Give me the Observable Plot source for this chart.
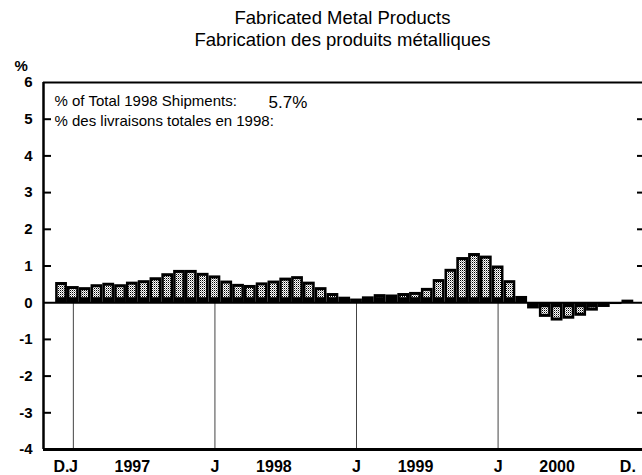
<!DOCTYPE html>
<html><head><meta charset="utf-8">
<script src="https://cdn.jsdelivr.net/npm/d3@7"></script>
<script src="https://cdn.jsdelivr.net/npm/@observablehq/plot@0.6"></script>
<style>
body{margin:0;background:#fff;font-family:"Liberation Sans",Arial,Helvetica,sans-serif;color:#000;}
#title{width:642px;height:52px;text-align:center;font-size:18.5px;line-height:22px;padding-top:7px;padding-left:43px;box-sizing:border-box;}
#chart svg{display:block;}
</style></head><body>
<svg width="0" height="0" style="position:absolute">
<defs><pattern id="stip" width="2" height="2" patternUnits="userSpaceOnUse">
<rect width="2" height="2" fill="#fff"/><rect width="1" height="1" fill="#000"/><rect x="1" y="1" width="1" height="1" fill="#999"/></pattern></defs></svg>
<div id="title"><div id="t1"></div><div id="t2"></div></div>
<div id="chart"></div>
<script>
// ---- data ----
const titleEn = "Fabricated Metal Products";
const titleFr = "Fabrication des produits métalliques";
const noteEn = "% of Total 1998 Shipments:";
const noteFr = "% des livraisons totales en 1998:";
const noteValue = "5.7%";
const yUnit = "%";
// monthly values, Dec 1996 (index 0) through Dec 2000 (index 48)
const values = [
  0.55,
  0.44, 0.41, 0.49, 0.53, 0.49, 0.56, 0.60, 0.68, 0.79, 0.88, 0.88, 0.80,
  0.73, 0.59, 0.50, 0.47, 0.54, 0.59, 0.67, 0.71, 0.56, 0.41, 0.25, 0.15,
  0.10, 0.16, 0.22, 0.21, 0.25, 0.28, 0.39, 0.63, 0.91, 1.23, 1.34, 1.27,
  1.00, 0.60, 0.17, -0.17, -0.40, -0.50, -0.45, -0.37, -0.23, -0.13, -0.05, 0.07
];
const janIndex = [1, 13, 25, 37];
const xTickIndex = [0, 1, 6, 13, 18, 25, 30, 37, 42, 48];
const xTickLabels = ["D.", "J", "1997", "J", "1998", "J", "1999", "J", "2000", "D."];
const yTicks = [-4, -3, -2, -1, 0, 1, 2, 3, 4, 5, 6];
const yInnerTicks = [-3, -2, -1, 1, 2, 3, 4, 5];
const yDomain = [-4, 6];
const xDomain = [-1.53, 49.24];

document.getElementById("t1").textContent = titleEn;
document.getElementById("t2").textContent = titleFr;

const data = values.map((v, i) => ({i, v}));
const width = 642, height = 423, mL = 43, mR = 0, mT = 30, mB = 26;
const frameW = width - mL - mR;
const font = '"Liberation Sans", Arial, Helvetica, sans-serif';

const chart = Plot.plot({
  width, height, marginLeft: mL, marginRight: mR, marginTop: mT, marginBottom: mB,
  style: {fontFamily: font, color: "#000", background: "#fff", overflow: "visible"},
  x: {type: "linear", domain: xDomain, axis: null},
  y: {domain: yDomain, axis: null},
  marks: [
    Plot.ruleX(janIndex, {x: d => d, y1: 0, y2: yDomain[0], stroke: "#444", strokeWidth: 1}),
    Plot.rect(data, {x1: d => d.i - 0.5, x2: d => d.i + 0.5, y1: 0, y2: d => d.v, fill: "#000"}),
    Plot.rect(data.filter(d => d.v > 0.2), {x1: d => d.i - 0.5, x2: d => d.i + 0.5, y1: 0, y2: d => d.v,
      fill: "url(#stip)", insetLeft: 2.5, insetRight: 2.5, insetTop: 3, insetBottom: 5}),
    Plot.rect(data.filter(d => d.v < -0.2), {x1: d => d.i - 0.5, x2: d => d.i + 0.5, y1: 0, y2: d => d.v,
      fill: "url(#stip)", insetLeft: 2.5, insetRight: 2.5, insetTop: 5, insetBottom: 3}),
    Plot.ruleY([0], {stroke: "#000", strokeWidth: 2}),
    Plot.ruleY([yDomain[1]], {stroke: "#000", strokeWidth: 2}),
    Plot.ruleY([yDomain[0]], {stroke: "#000", strokeWidth: 3}),
    Plot.ruleX([xDomain[0]], {stroke: "#000", strokeWidth: 2.5}),
    Plot.tickY(yInnerTicks, {y: d => d, insetRight: frameW - 8, stroke: "#000", strokeWidth: 2}),
    Plot.tickY(yInnerTicks, {y: d => d, insetLeft: frameW - 5, stroke: "#000", strokeWidth: 2}),
    Plot.axisY({ticks: yTicks, tickSize: 0, tickPadding: 11, tickFormat: d => String(d), fontSize: 15, fontWeight: "bold"}),
    Plot.axisX({ticks: xTickIndex, tickSize: 0, tickPadding: 11,
      tickFormat: d => xTickLabels[xTickIndex.indexOf(d)], fontSize: 16, fontWeight: "bold"}),
    Plot.text([yUnit], {frameAnchor: "top-left", dx: -29, dy: -22, fontSize: 15, fontWeight: "bold", textAnchor: "start"}),
    Plot.text([noteEn], {frameAnchor: "top-left", dx: 11, dy: 13, fontSize: 15, textAnchor: "start"}),
    Plot.text([noteFr], {frameAnchor: "top-left", dx: 11, dy: 33, fontSize: 15, textAnchor: "start"}),
    Plot.text([noteValue], {frameAnchor: "top-left", dx: 225, dy: 13, fontSize: 17, textAnchor: "start"})
  ]
});
document.getElementById("chart").appendChild(chart);
</script>
</body></html>
